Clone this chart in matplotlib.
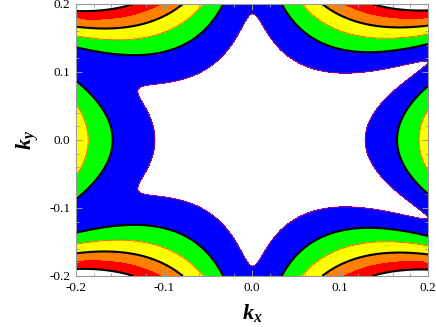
import numpy as np
import matplotlib
matplotlib.use('Agg')
from matplotlib import pyplot as plt
from matplotlib.ticker import MultipleLocator, FormatStrFormatter

# warped Dirac cone, linear part shifted along kx
v_f = 1.045
shift = 0.047
warp = 85.0

levels = [0.2, 0.4, 0.6, 0.8, 1.0, 1.2]
fill_colors = ['#0000ff', '#00ff00', '#ffff00', '#ff8000', '#ff0000']
black_levels = [0.4, 0.8, 1.2]
thin_levels = [0.2, 0.6]
thin_colors = ['#d01060', '#ff5000']

k_lim = [-0.2, 0.2]
major_ticks = [-0.2, -0.1, 0.0, 0.1, 0.2]
minor_step = 0.02


def energy(kx, ky):
    lin = v_f ** 2 * ((kx - shift) ** 2 + ky ** 2)
    hw = warp * (kx ** 3 - 3 * kx * ky ** 2)
    return np.sqrt(lin + hw ** 2)


plt.rcParams['font.family'] = 'Liberation Serif'
plt.rcParams['mathtext.fontset'] = 'custom'
plt.rcParams['mathtext.bf'] = 'Liberation Serif:italic:bold'
plt.rcParams['mathtext.it'] = 'Liberation Serif:italic:bold'
plt.rcParams['mathtext.rm'] = 'Liberation Serif:italic:bold'

k = np.linspace(k_lim[0], k_lim[1], 700)
KX, KY = np.meshgrid(k, k)
E = energy(KX, KY)

fig = plt.figure(figsize=(4.36, 3.27), dpi=100)
ax = fig.add_axes([76 / 436, 51 / 327, 352 / 436, 272 / 327])

ax.contourf(KX, KY, E, levels=levels, colors=fill_colors)
ax.contour(KX, KY, E, levels=thin_levels, colors=thin_colors, linewidths=0.6)
ax.contour(KX, KY, E, levels=black_levels, colors='black', linewidths=1.5)

ax.set_xlim(k_lim)
ax.set_ylim(k_lim)
ax.set_xticks(major_ticks)
ax.set_yticks(major_ticks)
ax.xaxis.set_minor_locator(MultipleLocator(minor_step))
ax.yaxis.set_minor_locator(MultipleLocator(minor_step))
ax.xaxis.set_major_formatter(FormatStrFormatter('%.1f'))
ax.yaxis.set_major_formatter(FormatStrFormatter('%.1f'))
ax.tick_params(which='both', direction='in', top=True, right=True,
               color='#999999', labelsize=9.5, pad=4)
ax.tick_params(which='major', length=4, width=0.7)
ax.tick_params(which='minor', length=2, width=0.6)
for s in ax.spines.values():
    s.set_color('#999999')
    s.set_linewidth(0.8)

ax.set_xlabel(r'$\mathbf{k}_\mathbf{x}$', fontsize=16, labelpad=6)
ax.set_ylabel(r'$\mathbf{k}_\mathbf{y}$', fontsize=16, labelpad=6)

fig.savefig('out.png', dpi=100)
